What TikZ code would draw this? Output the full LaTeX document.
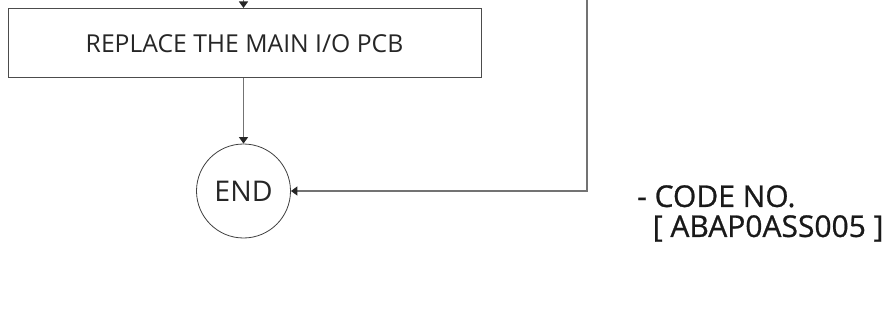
\documentclass[tikz,border=0pt]{standalone}
\usepackage{fontspec}
\setmainfont{Open Sans}
\newfontfamily\codefont[FakeBold=0.8]{Open Sans}
\usetikzlibrary{arrows.meta}
\begin{document}
\begin{tikzpicture}[x=1pt,y=1pt,
  conn/.style={draw=black!55, line width=1.3pt, -{Triangle[length=6.5pt,width=9pt,color=black!85]}},
  stepbox/.style={draw=black!70, line width=1pt, minimum width=473pt, minimum height=69.5pt, inner sep=0pt, font=\fontsize{24.7}{28}\selectfont, text=black!85},
  endnode/.style={draw=black!75, line width=0.8pt, circle, minimum size=94pt, inner sep=0pt, font=\fontsize{28.5}{32}\selectfont, text=black!85},
  codetext/.style={anchor=north west, align=left, inner sep=0pt, font=\codefont\fontsize{30}{30}\selectfont, text=black!90}]
\useasboundingbox (0,0) rectangle (891,327);
\node[stepbox] (rep) at (244.5,283.75) {REPLACE THE MAIN I/O PCB};
\node[endnode] (end) at (243.5,136) {END};
\coordinate (topin) at (243.5,327);
\coordinate (rtop) at (587,327);
\coordinate (rbend) at (587,136);
\draw[conn] (topin) -- (rep.north -| topin);
\draw[conn] (rep.south -| end.north) -- (end.north);
\draw[conn] (rtop) -- (rbend) -- (end.east);
\node[codetext] (code) at (637,142) {- CODE NO.\\\ \ [ ABAP0ASS005 ]};
\end{tikzpicture}
\end{document}
